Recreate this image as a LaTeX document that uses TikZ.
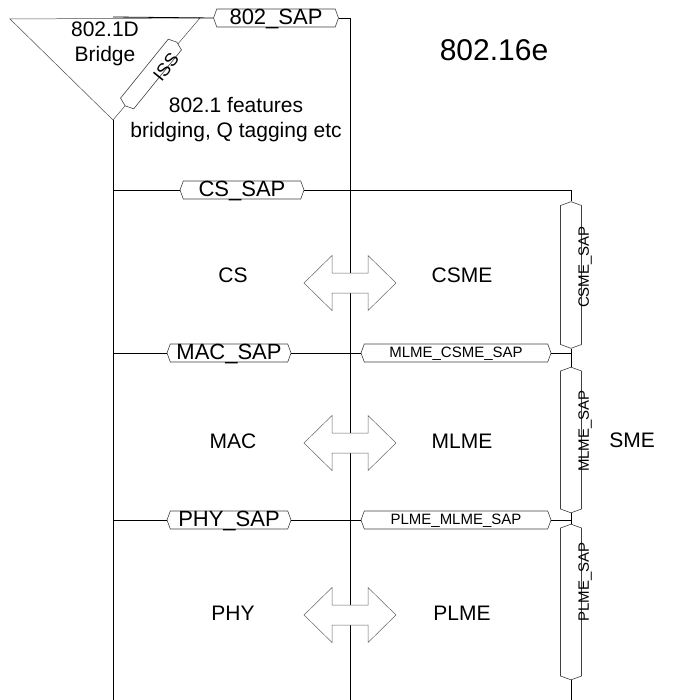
\documentclass[tikz,border=0pt]{standalone}
\usepackage{fontspec}
\setmainfont{Liberation Sans}
\usetikzlibrary{shapes.symbols, positioning, calc}
\tikzset{
  sap/.style={signal, signal to=east and west, signal pointer angle=140,
              draw=black!75, fill=white, line width=0.6pt, inner sep=0pt,
              minimum height=18pt, text height=15pt, text depth=2pt,
              font=\fontsize{22}{24}\selectfont},
  sapchico/.style={sap, text height=11pt, text depth=3pt,
                   font=\fontsize{15}{18}\selectfont},
  sapvert/.style={signal, signal to=north and south, signal pointer angle=140,
                  draw=black!75, fill=white, line width=0.6pt, inner sep=0pt,
                  minimum width=21pt},
  textosap/.style={font=\fontsize{15}{18}\selectfont, inner sep=0pt},
  capa/.style={font=\fontsize{21}{25}\selectfont, align=center, inner sep=0pt},
  linea/.style={line width=0.8pt, black}
}
\begin{document}
\begin{tikzpicture}[x=1pt, y=-1pt,
  triangulo/.style={draw=black!70, line width=0.5pt},
  flechadoble/.style={draw=black!60, fill=white, line width=0.5pt}
]
  \useasboundingbox (0,0) rectangle (686,700);

  % ── Puente 802.1D ──
  \draw[triangulo] (10,19) coordinate (tri-izq) -- (200,18) coordinate (tri-der)
        -- (113,120) coordinate (tri-vert) -- cycle;
  \node[capa] (puente) at (105,44) {802.1D\\Bridge};
  \node[sapchico, rotate=51, minimum width=82pt, minimum height=17pt] (iss) at (151,74) {};
  \node[textosap, rotate=51, font=\fontsize{18}{20}\selectfont] (isstxt) at (166,67) {ISS};
  \node[capa] (rasgos) at (236,120) {802.1 features\\bridging, Q tagging etc};
  \node[capa, font=\fontsize{30}{34}\selectfont] (titulo) at (494,50) {802.16e};

  % ── Puntos de las líneas ──
  \coordinate (izq-tope) at (113,17);
  \coordinate (izq-fin)  at (113,700);
  \coordinate (med-fin)  at (350,700);
  \coordinate (der-fin)  at (571,700);
  \coordinate (cs-izq)   at (113,190);
  \coordinate (mac-izq)  at (113,353);
  \coordinate (phy-izq)  at (113,520);

  % ── SAPs ──
  \node[sap, minimum width=125pt] (sap802) at (276,18)  {802\_SAP};
  \node[sap, minimum width=124pt] (cssap)  at (242,190) {CS\_SAP};
  \node[sap, minimum width=124pt] (macsap) at (229,353) {MAC\_SAP};
  \node[sap, minimum width=124pt] (physap) at (229,520) {PHY\_SAP};
  \node[sapchico, minimum width=190pt] (mlmecsme) at (456,353) {MLME\_CSME\_SAP};
  \node[sapchico, minimum width=190pt] (plmemlme) at (456,520) {PLME\_MLME\_SAP};
  \node[sapvert, minimum height=139pt] (csmesap) at (571,275) {};
  \node[sapvert, minimum height=138pt] (mlmesap) at (571,440) {};
  \node[sapvert, minimum height=148pt] (plmesap) at (571,602) {};
  \node[textosap, rotate=90] (csmetxt) at (585,267) {CSME\_SAP};
  \node[textosap, rotate=90] (mlmetxt) at (585,431) {MLME\_SAP};
  \node[textosap, rotate=90] (plmetxt) at (585,582) {PLME\_SAP};

  % ── Líneas ──
  \draw[linea] (tri-vert) -- (izq-fin);
  \draw[linea] (izq-tope) -- (sap802.west);
  \draw[linea] (sap802.east) -| (med-fin);
  \draw[linea] (cs-izq) -- (cssap.west);
  \draw[linea] (cssap.east) -| (csmesap.north);
  \draw[linea] (mac-izq) -- (macsap.west);
  \draw[linea] (macsap.east) -- (mlmecsme.west);
  \draw[linea] (mlmecsme.east) -- (mlmecsme.east -| csmesap.south);
  \draw[linea] (csmesap.south) -- (mlmesap.north);
  \draw[linea] (phy-izq) -- (physap.west);
  \draw[linea] (physap.east) -- (plmemlme.west);
  \draw[linea] (plmemlme.east) -- (plmemlme.east -| mlmesap.south);
  \draw[linea] (mlmesap.south) -- (plmesap.north);
  \draw[linea] (plmesap.south) -- (der-fin);

  % ── Flechas dobles entre capas ──
  \foreach \y in {283,443,615} {
    \draw[flechadoble] (350,\y) +(-46,0) -- +(-18,-27.5) -- +(-18,-10) -- +(18,-10)
      -- +(18,-27.5) -- +(46,0) -- +(18,27.5) -- +(18,10) -- +(-18,10)
      -- +(-18,27.5) -- cycle;
  }

  % ── Capas ──
  \node[capa] (cs)   at (233,275) {CS};
  \node[capa] (csme) at (462,275) {CSME};
  \node[capa] (mac)  at (233,441) {MAC};
  \node[capa] (mlme) at (462,441) {MLME};
  \node[capa] (phy)  at (233,613) {PHY};
  \node[capa] (plme) at (462,613) {PLME};
  \node[capa] (sme)  at (632,440) {SME};
\end{tikzpicture}
\end{document}
